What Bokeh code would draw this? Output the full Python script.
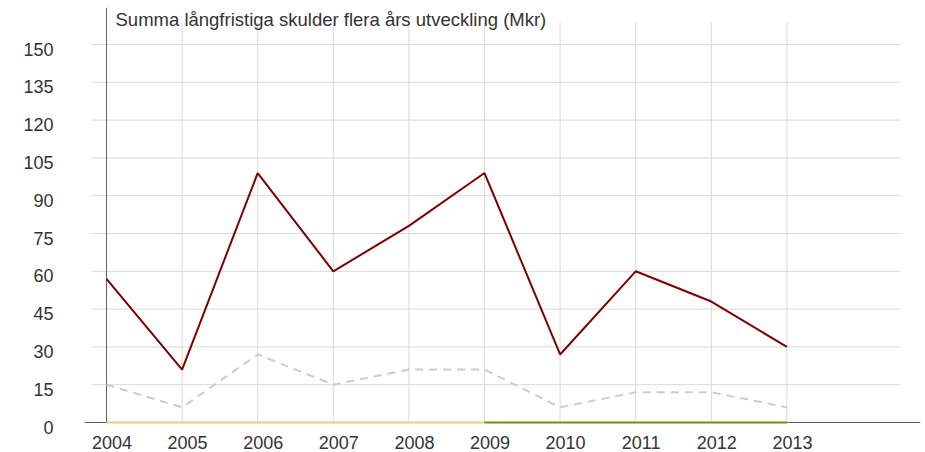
from bokeh.plotting import figure
from bokeh.models import Range1d, LinearAxis, FixedTicker, Span, Label, ColumnDataSource
from bokeh.embed import file_html
from bokeh.resources import INLINE
from bokeh.core.properties import value

# ---- data ----
years = [2004, 2005, 2006, 2007, 2008, 2009, 2010, 2011, 2012, 2013]
skulder = [57, 21, 99, 60, 78, 99, 27, 60, 48, 30]
jamforelse = [15, 6, 27, 15, 21, 21, 6, 12, 12, 6]
nollinje = [0, 0, 0, 0, 0, 0, 0, 0, 0, 0]
zone_split = 2009
y_ticks = [0, 15, 30, 45, 60, 75, 90, 105, 120, 135, 150]
year_labels = [str(y) for y in years]
title_text = "Summa långfristiga skulder flera års utveckling (Mkr)"

# ---- layout constants (pixels) ----
W, H = 925, 452
LEFT = 84            # frame left edge in canvas px
RIGHT = 5            # right border
X_FIRST = 106        # first year position in canvas px
Y_ZERO = 422         # value 0 position in canvas px (from top)
TOP = 7
PPY = 75.6           # px per year
PPU = 2.52           # px per unit
FONT = "Liberation Sans"
TXT = "#333333"
GRID = "#d9d9d9"
AXIS = "#606060"

x_start = years[0] - (X_FIRST - LEFT) / PPY
x_end = years[0] + (W - RIGHT - X_FIRST) / PPY
y_start = -(H - Y_ZERO) / PPU
y_end = (Y_ZERO - TOP) / PPU

p = figure(width=W, height=H, output_backend="svg", toolbar_location=None,
           x_range=Range1d(x_start, x_end), y_range=Range1d(y_start, y_end),
           x_axis_location=None, y_axis_location=None,
           min_border_left=LEFT, min_border_right=RIGHT, min_border_top=TOP, min_border_bottom=0)
p.outline_line_color = None
p.background_fill_color = "white"
p.border_fill_color = "white"
p.grid.visible = False

# y tick labels through an axis on a slightly shifted range (labels sit a bit below grid lines)
lab_shift = 4.5 / PPU
p.extra_y_ranges = {"lab": Range1d(y_start + lab_shift, y_end + lab_shift)}
yaxis = LinearAxis(y_range_name="lab", ticker=FixedTicker(ticks=y_ticks),
                   axis_line_color=None, major_tick_line_color=None, minor_tick_line_color=None,
                   major_tick_in=0, major_tick_out=0, major_label_standoff=31,
                   major_label_text_font_size="18px", major_label_text_color=TXT,
                   major_label_text_font=FONT)
p.add_layout(yaxis, "left")

# grid lines
hx0 = years[0] - 15 / PPY
hx1 = years[0] + 794 / PPY
hg = ColumnDataSource(dict(x0=[hx0] * (len(y_ticks) - 1), x1=[hx1] * (len(y_ticks) - 1),
                           y=y_ticks[1:]))
p.segment(x0="x0", y0="y", x1="x1", y1="y", source=hg, line_color=GRID, line_width=1)
vtop = (Y_ZERO - 22) / PPU
vg = ColumnDataSource(dict(x=years[1:], y0=[0] * (len(years) - 1), y1=[vtop] * (len(years) - 1)))
p.segment(x0="x", y0="y0", x1="x", y1="y1", source=vg, line_color=GRID, line_width=1)

# axis lines
xspan = Span(location=0, dimension="width", line_color=AXIS, line_width=1, level="underlay")
p.add_layout(xspan)
p.segment(x0=[years[0]], y0=[0], x1=[years[0]], y1=[y_end], line_color=AXIS, line_width=1)

# series
p.line(years, jamforelse, line_color="#cccccc", line_width=2, line_dash="8 6")
p.line(years, skulder, line_color="#800000", line_width=2)

left_x = [x for x in years if x <= zone_split]
left_y = [v for x, v in zip(years, nollinje) if x <= zone_split]
right_x = [x for x in years if x >= zone_split]
right_y = [v for x, v in zip(years, nollinje) if x >= zone_split]
p.line(left_x, left_y, line_color="#f3c97c", line_width=2)
p.line(right_x, right_y, line_color="#7f8a10", line_width=2)

# x tick labels
p.text(x=[y + 5.5 / PPY for y in years], y=[0] * len(years), text=year_labels,
       text_align="center", text_baseline="alphabetic", y_offset=20,
       text_font=value(FONT), text_font_size="18px", text_color=TXT)

# title inside the plot
title = Label(x=years[0] + 9 / PPY, y=(Y_ZERO - 18.5) / PPU, text=title_text,
              text_baseline="alphabetic", text_align="left",
              text_font=FONT, text_font_size="18.5px", text_color=TXT)
p.add_layout(title)

open("out.html", "w").write(file_html(p, INLINE))
